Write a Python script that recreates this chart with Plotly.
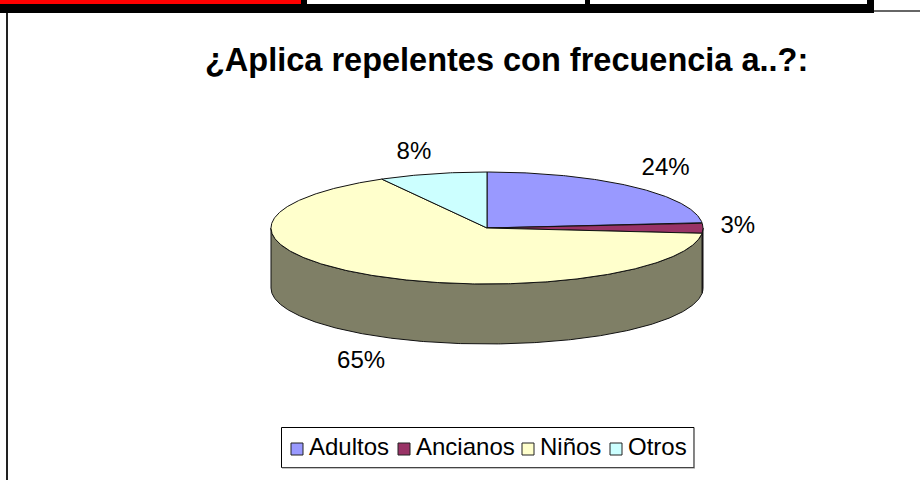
import numpy as np
import plotly.graph_objects as go

categories = ["Adultos", "Ancianos", "Niños", "Otros"]
percents = [23.5, 3.0, 65.4, 8.1]
top_colors = ["#9999FF", "#993366", "#FFFFCC", "#CCFFFF"]
wall_colors = ["#4D4D80", "#4D1A33", "#7F7F66", "#668080"]

title_text = "¿Aplica repelentes con frecuencia a..?:"

# pie geometry, in page pixels
CX, CY = 487, 228
RX, RY = 216, 56
DEPTH = 60

# nudges of the data labels from their slice edge
label_dx = [26, 24, -2, -16]
label_dy = [-16, -1, 85, -18]

# legend layout
legend_swatch_x = [297, 404, 528, 616]
LEGEND_Y = 449


def arc(start, end, drop=0):
    # angles in degrees, clockwise from 12 o'clock
    t = np.radians(np.linspace(start, end, max(int(abs(end - start)) * 2, 2)))
    return CX + RX * np.sin(t), CY - RY * np.cos(t) + drop


fig = go.Figure()

# side wall first, only the front half of the ellipse is visible
edges = np.cumsum([0] + percents) * 3.6
for i in range(len(categories)):
    start = max(edges[i], 90)
    end = min(edges[i + 1], 270)
    if start >= end:
        continue
    x_top, y_top = arc(start, end)
    x_low, y_low = arc(start, end, DEPTH)
    fig.add_trace(go.Scatter(
        x=np.concatenate([x_top, x_low[::-1], x_top[:1]]),
        y=np.concatenate([y_top, y_low[::-1], y_top[:1]]),
        mode="lines", fill="toself", fillcolor=wall_colors[i],
        line=dict(color="#111111", width=1), hoverinfo="skip", showlegend=False,
    ))

# top face
for i, name in enumerate(categories):
    x_arc, y_arc = arc(edges[i], edges[i + 1])
    fig.add_trace(go.Scatter(
        x=np.concatenate([[CX], x_arc, [CX]]),
        y=np.concatenate([[CY], y_arc, [CY]]),
        mode="lines", fill="toself", fillcolor=top_colors[i],
        line=dict(color="#111111", width=1), name=name, showlegend=False,
    ))

# data labels
mid = np.radians((edges[:-1] + edges[1:]) / 2)
fig.add_trace(go.Scatter(
    x=CX + RX * np.sin(mid) * 1.05 + np.array(label_dx),
    y=CY - RY * np.cos(mid) * 1.05 + np.array(label_dy),
    mode="text", text=[f"{p:.0f}%" for p in percents],
    textfont=dict(family="Liberation Sans", size=24, color="black"),
    hoverinfo="skip", showlegend=False,
))

# legend, plotly's own one keeps too wide a gap between swatch and text
fig.add_trace(go.Scatter(
    x=legend_swatch_x, y=[LEGEND_Y] * len(categories),
    mode="markers",
    marker=dict(symbol="square", size=12, color=top_colors, line=dict(color="#222222", width=1)),
    hoverinfo="skip", showlegend=False,
))
fig.add_trace(go.Scatter(
    x=[v + 12 for v in legend_swatch_x], y=[LEGEND_Y] * len(categories),
    mode="text", text=categories, textposition="middle right",
    textfont=dict(family="Liberation Sans", size=24, color="black"),
    hoverinfo="skip", showlegend=False,
))

line_black = dict(color="black", width=1)
shapes = [
    # page furniture around the chart
    dict(type="rect", x0=0, x1=301, y0=0, y1=4, fillcolor="#FF0000", line_width=0),
    dict(type="rect", x0=0, x1=874, y0=4, y1=13, fillcolor="black", line_width=0),
    dict(type="rect", x0=301, x1=307, y0=0, y1=4, fillcolor="black", line_width=0),
    dict(type="rect", x0=585, x1=590, y0=0, y1=4, fillcolor="black", line_width=0),
    dict(type="rect", x0=867, x1=874, y0=0, y1=4, fillcolor="black", line_width=0),
    dict(type="rect", x0=874, x1=920, y0=10, y1=12, fillcolor="#666666", line_width=0),
    dict(type="line", x0=7, x1=7, y0=13, y1=480, line=dict(color="#222222", width=2)),
    # legend box
    dict(type="rect", x0=281.5, x1=694, y0=427.5, y1=467.5, line=line_black, fillcolor="white", layer="below"),
    dict(type="line", x0=694.5, x1=694.5, y0=428, y1=468, line=dict(color="#888888", width=1)),
    dict(type="line", x0=282, x1=695, y0=468, y1=468, line=dict(color="#888888", width=1)),
]

fig.update_layout(
    width=920, height=480,
    margin=dict(l=0, r=0, t=0, b=0),
    paper_bgcolor="white", plot_bgcolor="white",
    xaxis=dict(range=[0, 920], visible=False, fixedrange=True),
    yaxis=dict(range=[480, 0], visible=False, fixedrange=True),
    shapes=shapes,
    annotations=[dict(
        text=f"<b>{title_text}</b>", x=506.5, y=60, xref="x", yref="y", showarrow=False,
        font=dict(family="Liberation Sans", size=32.5, color="black"),
    )],
)

# the page's default body margin would push the figure 8px in
fig.write_html("out.html", config=dict(displayModeBar=False),
               post_script="document.body.style.margin='0';document.body.style.overflow='hidden';")
